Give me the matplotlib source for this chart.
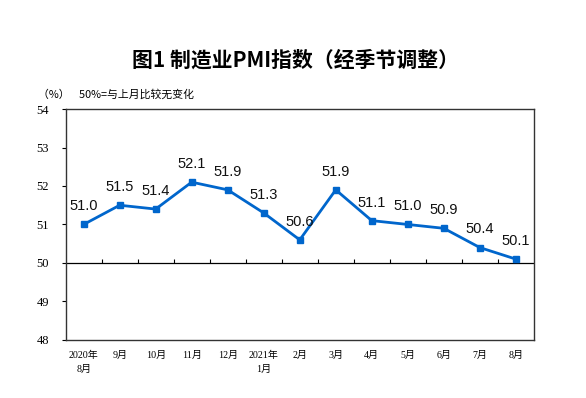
import matplotlib
matplotlib.use("Agg")
import matplotlib.pyplot as plt

plt.rcParams['font.family'] = ['Liberation Sans', 'Noto Sans CJK SC', 'DejaVu Sans']

months = ["2020年\n8月", "9月", "10月", "11月", "12月", "2021年\n1月", "2月", "3月",
          "4月", "5月", "6月", "7月", "8月"]
pmi = [51.0, 51.5, 51.4, 52.1, 51.9, 51.3, 50.6, 51.9, 51.1, 51.0, 50.9, 50.4, 50.1]
yticks = [48, 49, 50, 51, 52, 53, 54]

title = "图1 制造业PMI指数（经季节调整）"
note = "（%）    50%=与上月比较无变化"

fig = plt.figure(figsize=(5.86, 3.98), dpi=100)
ax = fig.add_axes([0.112, 0.146, 0.799, 0.580])

x = list(range(len(pmi)))
ax.plot(x, pmi, color='#0066CC', lw=2, marker='s', markersize=5, zorder=3)
for xi, v in zip(x, pmi):
    ax.annotate(f"{v:.1f}", (xi, v), xytext=(0, 8), textcoords='offset points',
                ha='center', va='bottom', fontsize=10.5, color='#111111')

ax.set_xlim(-0.5, len(pmi) - 0.5)
ax.set_ylim(yticks[0], yticks[-1])
ax.set_yticks(yticks)
ax.set_yticklabels([str(t) for t in yticks], fontsize=9,
                   family=['Liberation Serif', 'DejaVu Serif'])
ax.tick_params(axis='y', length=3, width=0.8, pad=9)
ax.set_xticks(x)
ax.set_xticklabels(months, fontsize=7.2, linespacing=1.6,
                   family=['Liberation Serif', 'Noto Sans CJK SC'])
ax.tick_params(axis='x', length=0, pad=8)

ax.axhline(50, color='black', lw=0.9, zorder=2)
bounds = [i + 0.5 for i in range(len(pmi) - 1)]
ax.vlines(bounds, 50, 50.1, color='black', lw=0.8)

for s in ax.spines.values():
    s.set_color('#333333')
    s.set_linewidth(1.0)

fig.text(0.505, 0.849, title, ha='center', va='center', fontsize=15, fontweight='bold',
         family=['Noto Sans CJK SC', 'DejaVu Sans'])
fig.text(0.065, 0.762, note, ha='left', va='center', fontsize=7.8,
         family=['Noto Sans CJK SC', 'DejaVu Sans'])

fig.savefig("out.png", dpi=100)
